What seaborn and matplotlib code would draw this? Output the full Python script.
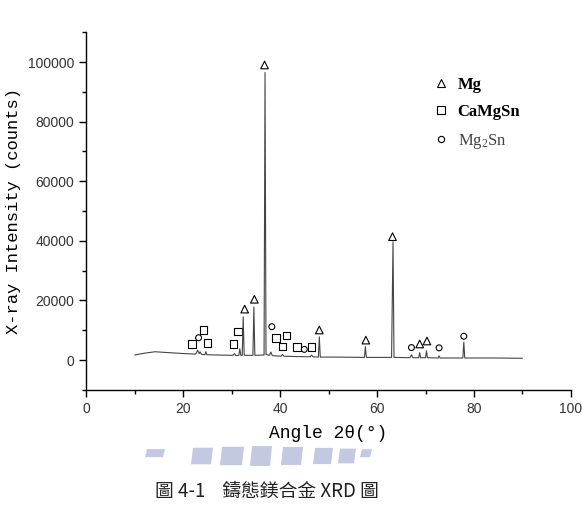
import numpy as np
import pandas as pd
import matplotlib.pyplot as plt
import seaborn as sns
from matplotlib.lines import Line2D
from matplotlib.patches import Polygon
from matplotlib.ticker import MultipleLocator

# === XRD trace (angle, counts) ===
angle = [10.0, 12.0, 14.2, 17.0, 20.0, 22.6, 23.0, 23.3, 23.5, 23.8, 24.5, 24.7, 24.9,
         27.0, 30.3, 30.6, 30.9, 31.5, 31.7, 31.9, 32.2, 32.4, 32.6, 34.4, 34.6, 34.8,
         36.7, 36.9, 37.1, 37.8, 38.1, 38.4, 40.2, 40.5, 40.8, 43.0, 46.2, 46.5, 46.8,
         47.9, 48.1, 48.3, 52.0, 57.4, 57.6, 57.8, 63.0, 63.3, 63.5, 66.8, 67.1, 67.4,
         68.6, 68.8, 69.0, 70.0, 70.2, 70.4, 72.6, 72.8, 73.0, 77.7, 77.9, 78.1, 84.0, 90.0]
counts = [1700, 2300, 2800, 2500, 2200, 2000, 3300, 2200, 2800, 1900, 1800, 2800, 1800,
          1700, 1600, 2200, 1500, 1600, 3800, 1600, 1600, 14500, 1600, 1600, 17800, 1600,
          1700, 96500, 1900, 1600, 2700, 1500, 1300, 1900, 1300, 1200, 1100, 1700, 1100,
          1000, 7800, 1000, 1000, 900, 4500, 900, 900, 39700, 900, 800, 1800, 800,
          800, 2500, 800, 800, 3100, 800, 700, 1400, 700, 700, 6000, 700, 700, 600]

# === Phase markers (position, height) ===
mg_x = [32.7, 34.7, 36.8, 48.1, 57.7, 63.2, 68.8, 70.3]
mg_y = [17100, 20400, 99000, 10100, 6700, 41400, 5400, 6400]
camgsn_x = [21.8, 24.2, 25.0, 30.4, 31.3, 39.2, 40.5, 41.3, 43.5, 46.5]
camgsn_y = [5400, 10000, 5800, 5400, 9600, 7500, 4600, 8300, 4400, 4400]
mg2sn_x = [23.2, 38.3, 45.0, 67.1, 72.8, 77.9]
mg2sn_y = [7500, 11200, 3600, 4200, 4100, 8000]

phases = ["Mg", "CaMgSn", r"Mg$\mathregular{_2}$Sn"]

df = pd.DataFrame({"angle": angle, "counts": counts})

sns.set_style("ticks")
plt.rcParams["font.family"] = ["Liberation Sans", "DejaVu Sans"]

fig = plt.figure(figsize=(5.82, 5.11), dpi=100)
ax = fig.add_axes([0.148, 0.237, 0.833, 0.700])

sns.lineplot(data=df, x="angle", y="counts", color="#454545", linewidth=0.8, ax=ax)

sns.scatterplot(x=mg_x, y=mg_y, marker="^", s=30, facecolors="none", edgecolor="black",
                linewidth=0.8, ax=ax)
sns.scatterplot(x=camgsn_x, y=camgsn_y, marker="s", s=30, facecolors="none", edgecolor="black",
                linewidth=0.8, ax=ax)
sns.scatterplot(x=mg2sn_x, y=mg2sn_y, marker="o", s=18, facecolors="none", edgecolor="black",
                linewidth=0.8, ax=ax)

ax.set_xlim(0, 100)
ax.set_ylim(-10000, 110000)
ax.xaxis.set_major_locator(MultipleLocator(20))
ax.xaxis.set_minor_locator(MultipleLocator(10))
ax.yaxis.set_major_locator(MultipleLocator(20000))
ax.yaxis.set_minor_locator(MultipleLocator(10000))
ax.tick_params(which="major", direction="out", length=5, width=1, labelsize=10, color="black",
               labelcolor="#333333")
ax.tick_params(which="minor", direction="out", length=3, width=1, color="black")
sns.despine(ax=ax)
for s in ["left", "bottom"]:
    ax.spines[s].set_color("black")
    ax.spines[s].set_linewidth(1.0)

ax.set_xlabel("Angle 2θ(°)", family=["Liberation Mono", "DejaVu Sans"], fontsize=13,
              labelpad=7, color="black")
ax.set_ylabel("X-ray Intensity (counts)", family=["Liberation Mono", "DejaVu Sans"],
              fontsize=12.3, labelpad=5, color="black")

# === Legend ===
handles = [Line2D([], [], marker=m, ls="none", mfc="none", mec="black", ms=ms, mew=0.8)
           for m, ms in zip(["^", "s", "o"], [5.5, 5.5, 4.5])]
leg = ax.legend(handles, phases, loc="upper left", bbox_to_anchor=(0.684, 0.918), frameon=False,
                handlelength=1.0, handletextpad=0.5, labelspacing=0.7,
                prop={"family": "Liberation Serif", "size": 12})
for t, w, c in zip(leg.get_texts(), ["bold", "bold", "normal"], ["black", "black", "#444444"]):
    t.set_fontweight(w)
    t.set_color(c)

# === Watermark band and caption ===
bars = [(147, 165), (193, 213), (222, 244), (252, 272), (283, 303), (315, 333), (340, 356), (362, 372)]
for i, (x0, x1) in enumerate(bars):
    c = (x0 + x1) / 2 - 260
    top = 446 + abs(c) * 0.03
    bot = 466 - abs(c) * 0.03
    if i in (0, len(bars) - 1):
        bot = top + 8
    pts = [(x0, top), (x1, top), (x1 - 2, bot), (x0 - 2, bot)]
    pts = [(x / 582, 1 - y / 511) for x, y in pts]
    fig.patches.append(Polygon(pts, closed=True, transform=fig.transFigure,
                               facecolor="#b3bcd9", edgecolor="none", alpha=0.8))

fig.text(0.266, 0.028, "圖 4-1    鑄態鎂合金 XRD 圖", fontsize=13.5,
         family=["Noto Sans CJK TC", "DejaVu Sans"], color="#222222")

fig.savefig("out.png", dpi=100, facecolor="white")
